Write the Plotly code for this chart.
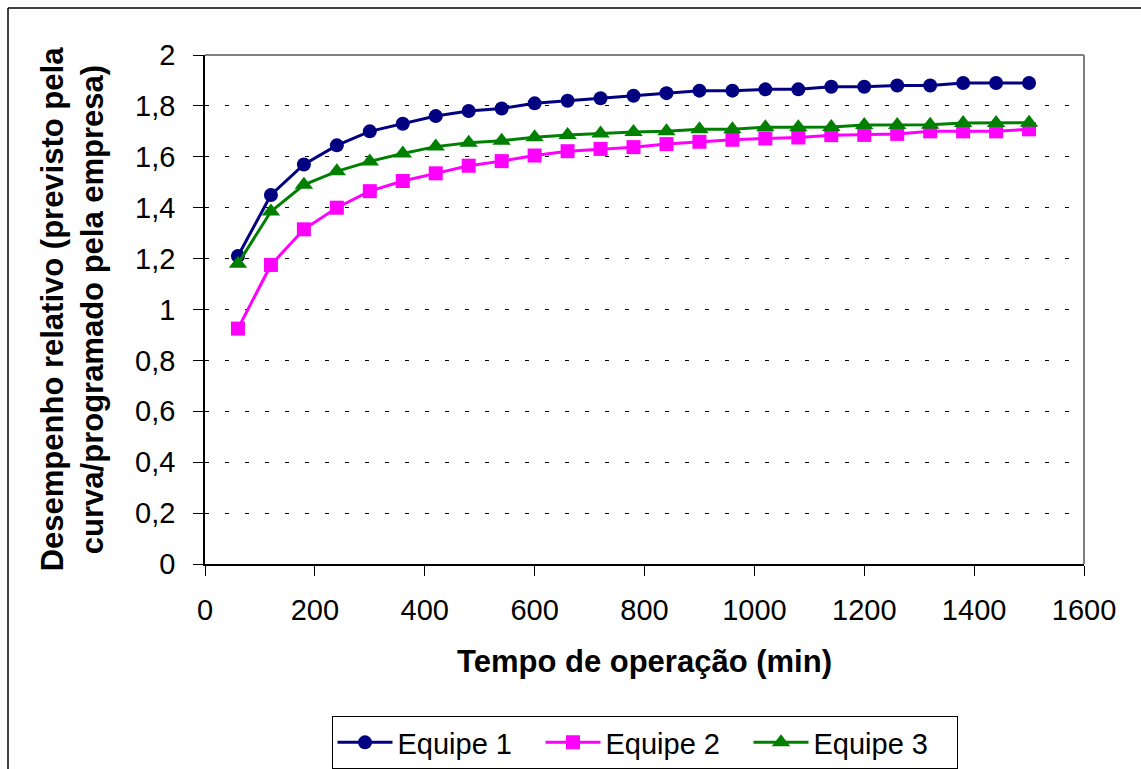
import plotly.graph_objects as go

tempo = [60, 120, 180, 240, 300, 360, 420, 480, 540, 600, 660, 720, 780,
         840, 900, 960, 1020, 1080, 1140, 1200, 1260, 1320, 1380, 1440, 1500]
equipe1 = [1.21, 1.45, 1.57, 1.645, 1.70, 1.73, 1.76, 1.78, 1.79, 1.81, 1.82, 1.83, 1.84,
           1.85, 1.86, 1.86, 1.865, 1.865, 1.875, 1.875, 1.88, 1.88, 1.89, 1.89, 1.89]
equipe2 = [0.925, 1.175, 1.315, 1.40, 1.465, 1.505, 1.535, 1.565, 1.583, 1.605, 1.622, 1.631, 1.638,
           1.65, 1.659, 1.667, 1.672, 1.676, 1.685, 1.686, 1.69, 1.70, 1.70, 1.70, 1.708]
equipe3 = [1.18, 1.385, 1.49, 1.543, 1.582, 1.613, 1.64, 1.655, 1.663, 1.677, 1.686, 1.692, 1.697,
           1.70, 1.708, 1.708, 1.716, 1.716, 1.717, 1.725, 1.725, 1.726, 1.733, 1.733, 1.734]

W, H = 1141, 769
ML, MR, MT, MB = 205, 57, 55, 205
PW, PH = W - ML - MR, H - MT - MB

def px2x(px):
    return (px - ML) / PW

def py2y(py):
    return (H - MB - py) / PH

FONT = "Liberation Sans, Arial, sans-serif"
TICK = 29
TITLE = 31

fig = go.Figure()
fig.add_trace(go.Scatter(x=tempo, y=equipe1, name="Equipe 1", mode="lines+markers",
                         line=dict(color="#000080", width=3),
                         marker=dict(symbol="circle", size=14, color="#000080")))
fig.add_trace(go.Scatter(x=tempo, y=equipe2, name="Equipe 2", mode="lines+markers",
                         line=dict(color="#FF00FF", width=3),
                         marker=dict(symbol="square", size=14, color="#FF00FF")))
fig.add_trace(go.Scatter(x=tempo, y=equipe3, name="Equipe 3", mode="lines+markers",
                         line=dict(color="#008000", width=3),
                         marker=dict(symbol="triangle-up", size=16, color="#008000")))

fig.update_layout(
    width=W, height=H,
    margin=dict(l=ML, r=MR, t=MT, b=MB, autoexpand=False),
    paper_bgcolor="white", plot_bgcolor="white",
    separators=",.",
    font=dict(family=FONT, size=TICK, color="black"),
    showlegend=True,
    legend=dict(orientation="h", x=0.5, xanchor="center", y=py2y(716), yanchor="top",
                bordercolor="black", borderwidth=1, bgcolor="white",
                font=dict(family=FONT, size=TICK, color="black"),
                itemwidth=55, entrywidth=138, entrywidthmode="pixels", tracegroupgap=0),
    xaxis=dict(range=[0, 1600], dtick=200, tick0=0, showgrid=False, zeroline=False,
               showline=True, linecolor="black", linewidth=1.5,
               ticks="outside", ticklen=10, tickcolor="black", tickwidth=1,
               ticklabelstandoff=9,
               tickfont=dict(family=FONT, size=TICK, color="black"),
               title=dict(text="<b>Tempo de operação (min)</b>", standoff=26,
                          font=dict(family=FONT, size=TITLE, color="black"))),
    yaxis=dict(range=[0, 2], dtick=0.2, tick0=0, showgrid=True, gridcolor="black",
               gridwidth=1, griddash="4px,16px", zeroline=False,
               showline=True, linecolor="black", linewidth=1.5,
               ticks="outside", ticklen=10, tickcolor="black", tickwidth=1,
               ticklabelstandoff=12,
               tickfont=dict(family=FONT, size=TICK, color="black"),
               title=dict(text="<b>Desempenho relativo (previsto pela<br>curva/programado pela empresa)</b>",
                          standoff=22,
                          font=dict(family=FONT, size=TITLE, color="black"))),
    shapes=[
        dict(type="line", xref="paper", yref="paper", x0=0, x1=1, y0=1, y1=1,
             line=dict(color="#808080", width=2), layer="above"),
        dict(type="line", xref="paper", yref="paper", x0=1, x1=1, y0=0, y1=1,
             line=dict(color="#808080", width=2), layer="above"),
        dict(type="line", xref="paper", yref="paper", x0=px2x(8), x1=px2x(W + 5),
             y0=py2y(8), y1=py2y(8), line=dict(color="black", width=1.5), layer="above"),
        dict(type="line", xref="paper", yref="paper", x0=px2x(8), x1=px2x(8),
             y0=py2y(8), y1=py2y(H + 5), line=dict(color="black", width=1.5), layer="above"),
    ],
)

fig.write_html("out.html")
